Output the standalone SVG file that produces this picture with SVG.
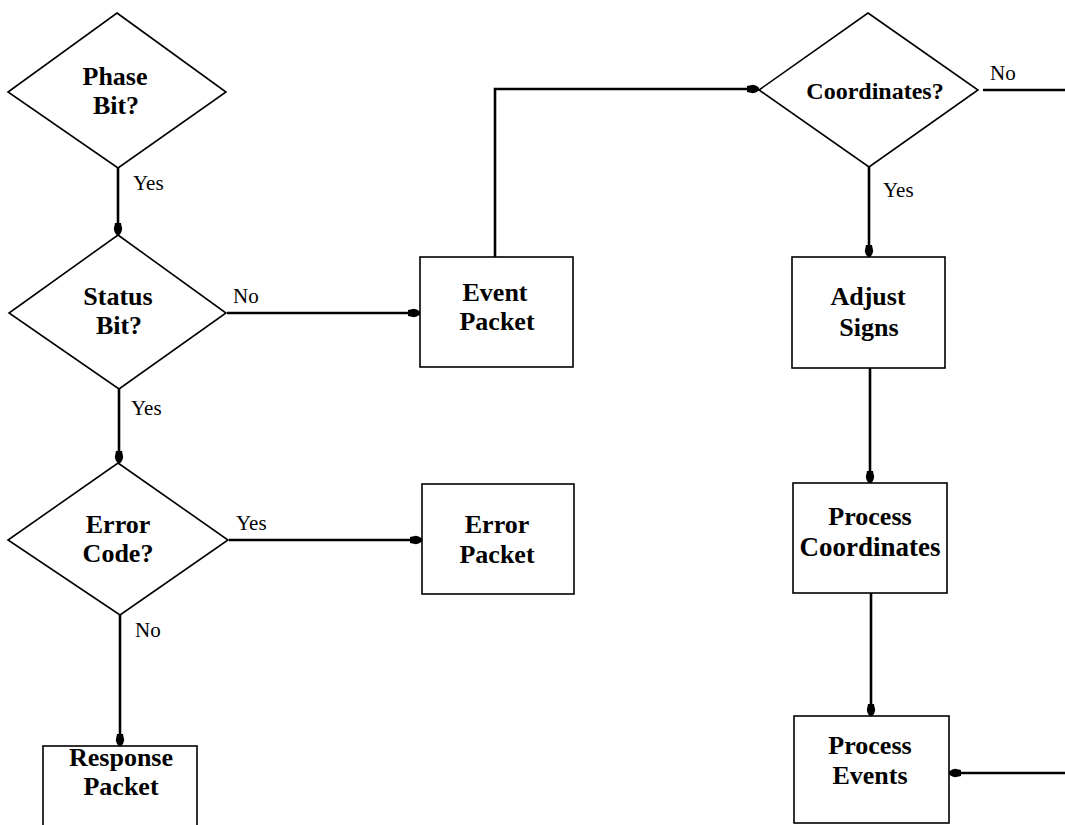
<svg xmlns="http://www.w3.org/2000/svg" width="1065" height="825" viewBox="0 0 1065 825">
<style>
.shape{fill:#fff;stroke:#000;stroke-width:1.6}
.t{font-family:"Liberation Serif","Times New Roman",serif;font-weight:bold;font-size:26px;text-anchor:middle;fill:#000}
.l{font-family:"Liberation Serif","Times New Roman",serif;font-size:21px;fill:#000}
.c{fill:none;stroke:#000;stroke-width:2.6}
</style>
<defs>
<marker id="ah" markerUnits="userSpaceOnUse" viewBox="0 0 12 10" refX="12" refY="5" markerWidth="12" markerHeight="10" orient="auto">
<path d="M0,2 L6,0.8 Q12,2 12,5 Q12,8 6,9.2 L0,8 Z" fill="#000"/>
</marker>
</defs>
<rect width="1065" height="825" fill="#fff"/>
<g id="connectors">
<path class="c" d="M118,168 V235" marker-end="url(#ah)"/>
<path class="c" d="M227,313 H420" marker-end="url(#ah)"/>
<path class="c" d="M119,389 V463" marker-end="url(#ah)"/>
<path class="c" d="M229,540 H422" marker-end="url(#ah)"/>
<path class="c" d="M120,615 V746" marker-end="url(#ah)"/>
<path class="c" d="M495,257 V89 H759" marker-end="url(#ah)"/>
<path class="c" d="M983,90 H1065"/>
<path class="c" d="M869,167 V257" marker-end="url(#ah)"/>
<path class="c" d="M870,368 V483" marker-end="url(#ah)"/>
<path class="c" d="M871,593 V716" marker-end="url(#ah)"/>
<path class="c" d="M1065,773 H949" marker-end="url(#ah)"/>
<text class="l" x="133" y="190">Yes</text>
<text class="l" x="233" y="303">No</text>
<text class="l" x="131" y="415">Yes</text>
<text class="l" x="236" y="530">Yes</text>
<text class="l" x="135" y="637">No</text>
<text class="l" x="990" y="80">No</text>
<text class="l" x="883" y="197">Yes</text>
</g>
<g id="phase">
<polygon class="shape" points="117,13 226,92 118,168 8,92"/>
<text class="t" x="115" y="85">Phase</text>
<text class="t" x="116" y="114">Bit?</text>
</g>
<g id="status">
<polygon class="shape" points="118,235 226,313 119,389 9,313"/>
<text class="t" x="118" y="305">Status</text>
<text class="t" x="119" y="334">Bit?</text>
</g>
<g id="error">
<polygon class="shape" points="118,463 228,540 120,615 8,540"/>
<text class="t" x="118" y="533">Error</text>
<text class="t" x="118" y="562">Code?</text>
</g>
<g id="event-packet">
<rect class="shape" x="420" y="257" width="153" height="110"/>
<text class="t" x="495" y="301">Event</text>
<text class="t" x="497" y="330">Packet</text>
</g>
<g id="error-packet">
<rect class="shape" x="422" y="484" width="152" height="110"/>
<text class="t" x="497" y="533">Error</text>
<text class="t" x="497" y="563">Packet</text>
</g>
<g id="response-packet">
<rect class="shape" x="43" y="746" width="154" height="90"/>
<text class="t" x="121" y="766">Response</text>
<text class="t" x="121" y="795">Packet</text>
</g>
<g id="coordinates">
<polygon class="shape" points="868,13 978,90 869,167 759,90"/>
<text class="t" x="875" y="99" style="font-size:24px">Coordinates?</text>
</g>
<g id="adjust-signs">
<rect class="shape" x="792" y="257" width="153" height="111"/>
<text class="t" x="868" y="305">Adjust</text>
<text class="t" x="869" y="336">Signs</text>
</g>
<g id="process-coordinates">
<rect class="shape" x="793" y="483" width="154" height="110"/>
<text class="t" x="870" y="525">Process</text>
<text class="t" x="870" y="556" style="font-size:27px">Coordinates</text>
</g>
<g id="process-events">
<rect class="shape" x="794" y="716" width="155" height="107"/>
<text class="t" x="870" y="754">Process</text>
<text class="t" x="870" y="784">Events</text>
</g>
</svg>
